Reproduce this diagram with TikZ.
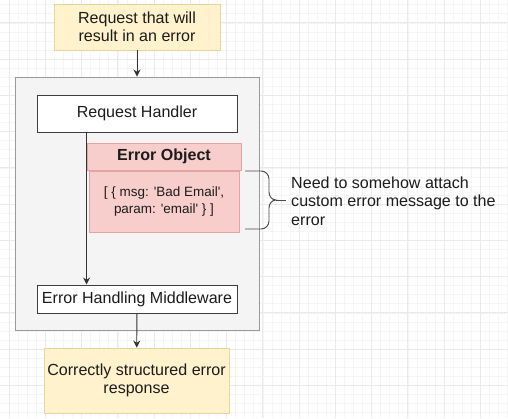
\documentclass[tikz,border=0pt]{standalone}
\usepackage{fontspec}
\setmainfont{Liberation Sans}
\usetikzlibrary{arrows.meta}
\definecolor{notefill}{HTML}{FFF2CC}
\definecolor{notedraw}{HTML}{E8D49E}
\definecolor{errfill}{HTML}{F8CECC}
\definecolor{errdraw}{HTML}{E5A3A1}
\definecolor{appfill}{HTML}{F4F4F4}
\definecolor{appdraw}{HTML}{9A9A9A}
\definecolor{gridminor}{HTML}{F5F5F5}
\definecolor{gridmajor}{HTML}{EAEAEA}
\definecolor{ink}{HTML}{1C1C1C}
\newcommand{\mainsize}{\fontsize{13.7}{15.6}\selectfont}
\newcommand{\smallsize}{\fontsize{11.5}{14.4}\selectfont}

\begin{document}
\begin{tikzpicture}[x=0.03cm,y=-0.03cm,
		every node/.style={text=ink,font=\mainsize,inner sep=0pt,align=center},
		yellowbox/.style={draw=notedraw,fill=notefill,line width=0.7pt},
		whitebox/.style={draw=ink!85,fill=white,line width=0.8pt},
		redbox/.style={draw=errdraw,fill=errfill,line width=0.7pt},
		arr/.style={draw=ink!90,line width=0.8pt,-{Stealth[length=6pt,width=6pt]}},
		brace/.style={draw=ink!80,line width=0.8pt}]
	\useasboundingbox (0,0) rectangle (508,418);
	\fill[white] (0,0) rectangle (508,418);
	\begin{scope}[shift={(9,59)}]
		\draw[gridminor,line width=0.4pt,step=0.271875cm] (-9,359) grid (499,-59);
		\draw[gridmajor,line width=0.6pt,step=1.0875cm] (-9,359) grid (499,-59);
	\end{scope}

	\node[draw=appdraw,fill=appfill,line width=0.8pt,minimum width=7.32cm,minimum height=7.59cm] (app) at (137,203.5) {};
	\node[yellowbox,minimum width=4.98cm,minimum height=1.38cm] (req) at (137,27) {Request that will\\result in an error};
	\node[whitebox,minimum width=6cm,minimum height=1.11cm] (handler) at (137,113.5) {Request Handler};
	\node[redbox,minimum width=4.62cm,minimum height=0.81cm,font=\mainsize\bfseries] (errhead) at (164,156.5) {Error Object};
	\node[redbox,minimum width=4.5cm,minimum height=1.83cm,font=\smallsize] (errbody) at (164,201.5) {[ \{ msg: \textquotesingle Bad Email\textquotesingle,\\param: \textquotesingle email\textquotesingle\ \} ]};
	\node[whitebox,minimum width=6cm,minimum height=0.84cm] (mw) at (137,299) {Error Handling Middleware};
	\node[yellowbox,minimum width=5.55cm,minimum height=1.95cm] (resp) at (136.5,380.5) {Correctly structured error\\response};
	\node[anchor=west,align=left] (note) at (291,201) {Need to somehow attach\\custom error message to the\\error};

	\draw[arr] (req) -- (app.north -| req);
	\draw[arr] (handler.south -| errhead.west) -- (mw.north -| errhead.west);
	\draw[arr] (mw) -- (resp);
	\draw[brace] (245,171) -- (261,171) to[out=0,in=90] (269,179) -- (269,192) to[out=-90,in=180] (276,200)
		to[out=180,in=90] (269,208) -- (269,221) to[out=-90,in=0] (261,229) -- (245,229);
	\draw[brace] (276,200) -- (286,200);
\end{tikzpicture}
\end{document}
